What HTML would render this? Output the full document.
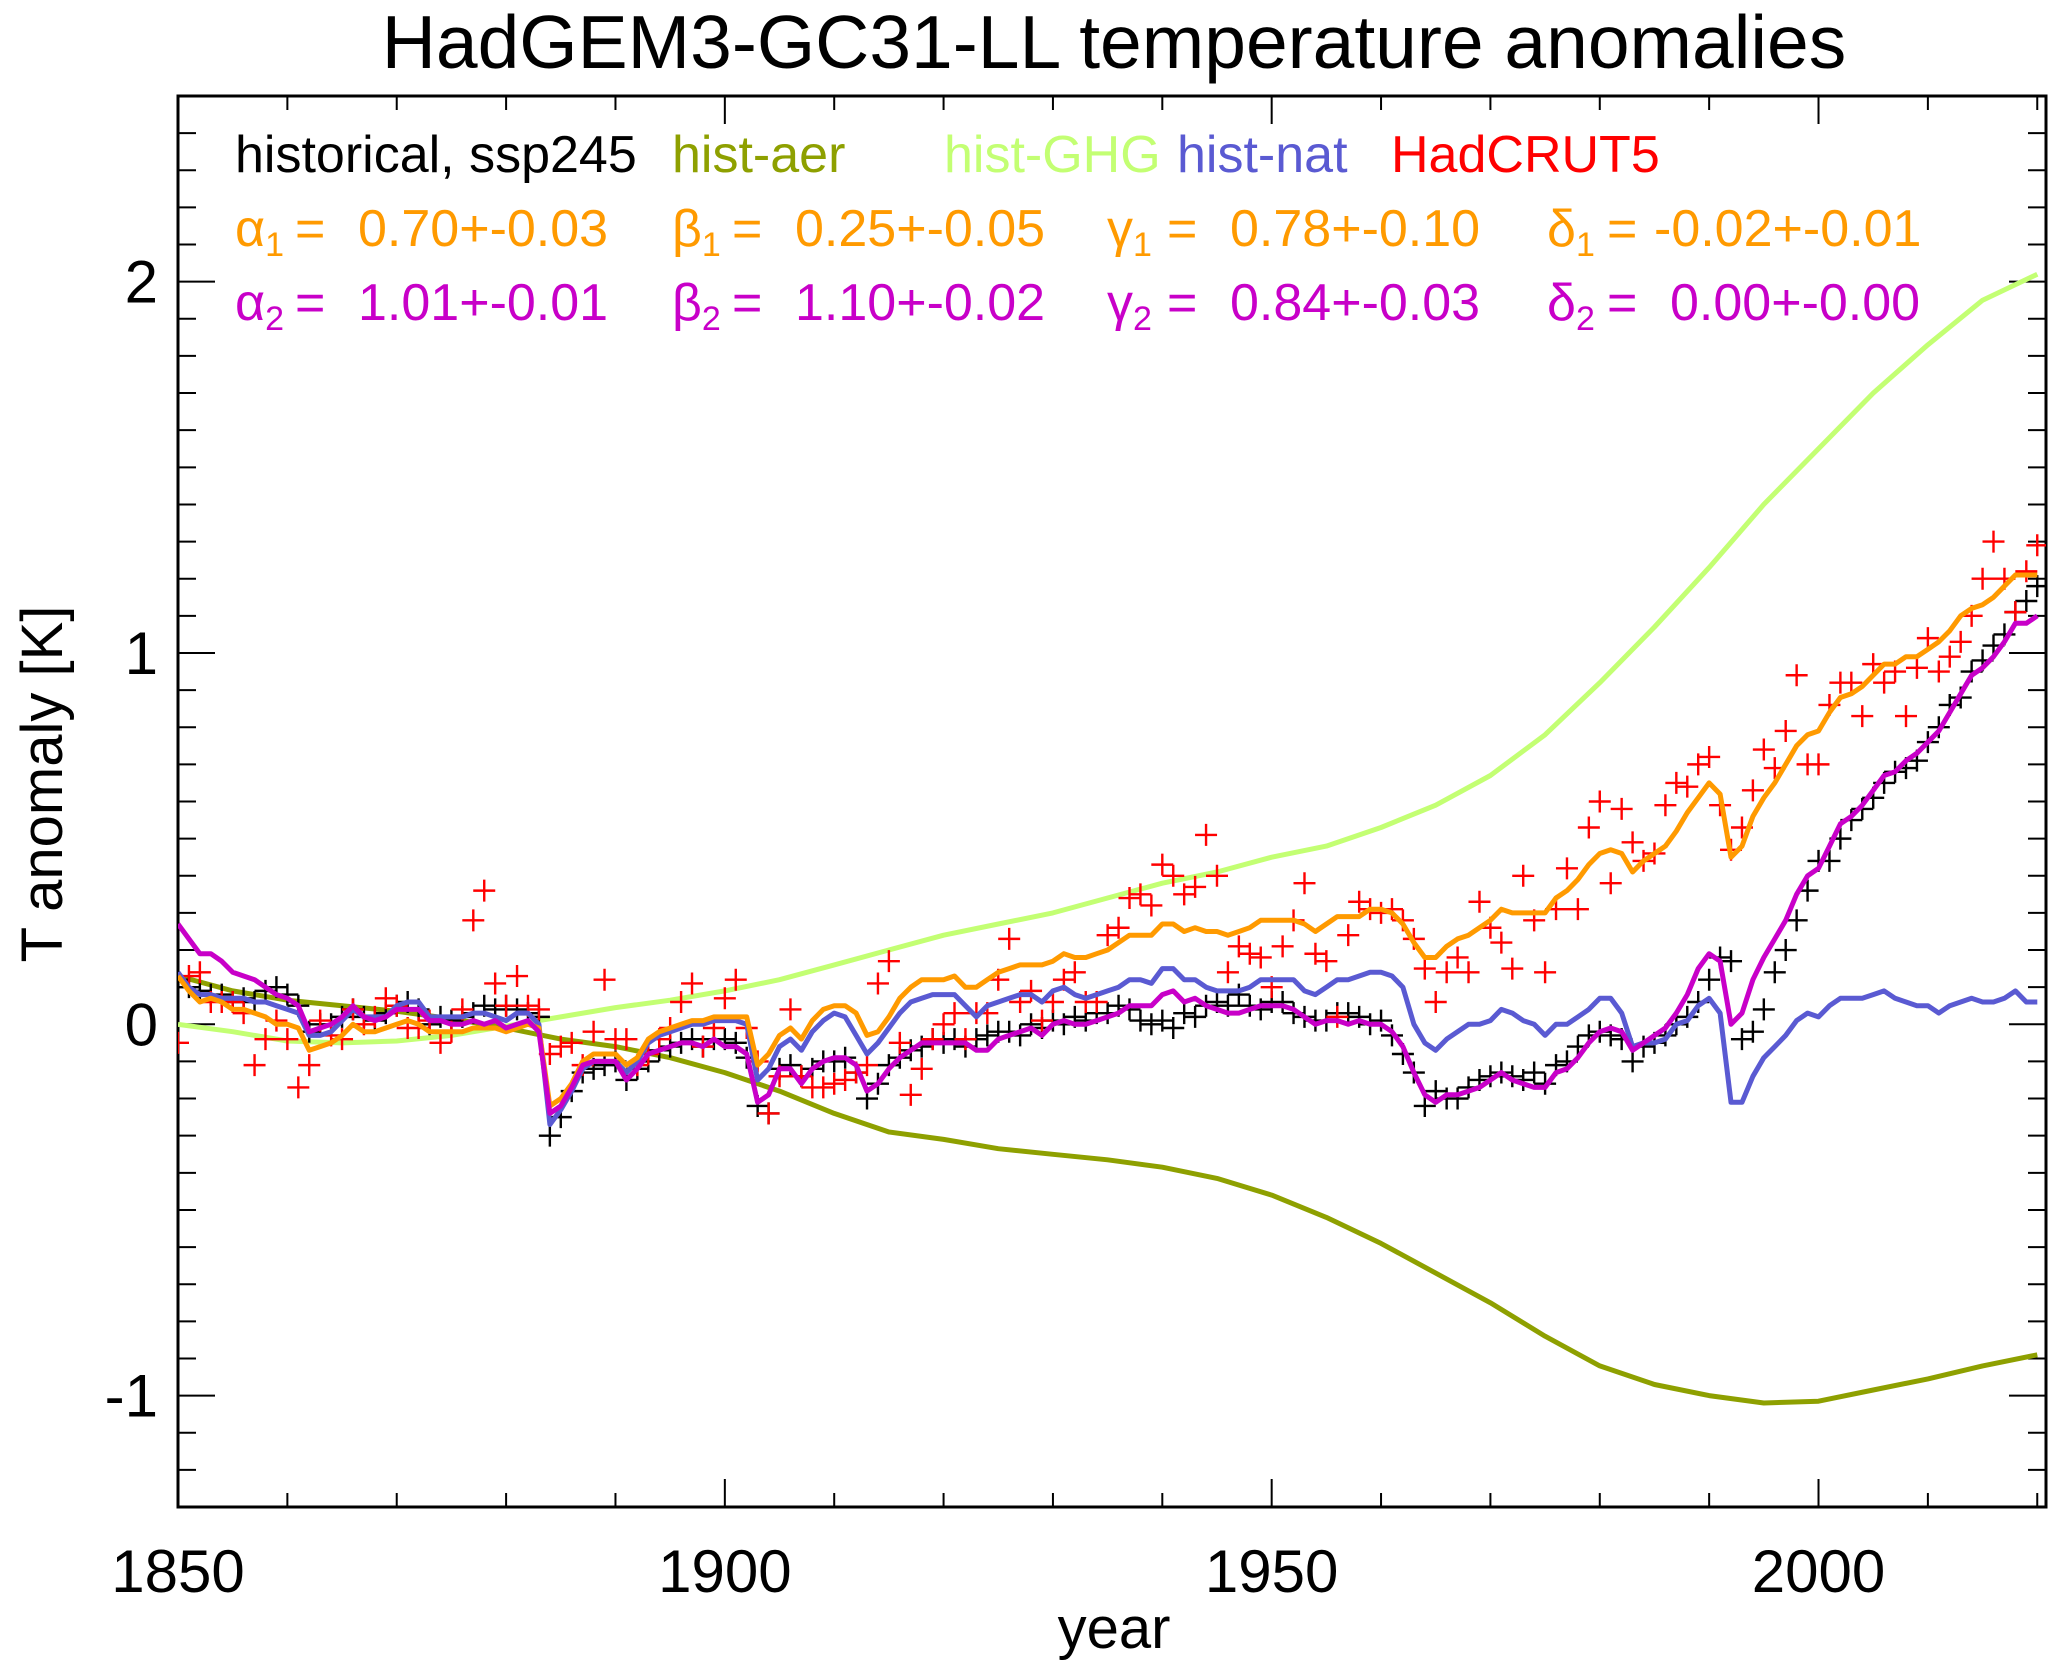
<!DOCTYPE html>
<html><head><meta charset="utf-8"><style>
html,body{margin:0;padding:0;background:#fff;}
svg{display:block;font-family:"Liberation Sans",sans-serif;}
</style></head><body>
<svg id="chart" width="2067" height="1674" viewBox="0 0 2067 1674" xmlns="http://www.w3.org/2000/svg">
<rect width="2067" height="1674" fill="#fff"/>
<text x="1114" y="68" font-size="75" text-anchor="middle">HadGEM3-GC31-LL temperature anomalies</text>
<g id="axes"></g>
<g id="series"></g>
<g font-size="52">
<text x="235" y="172" fill="#000">historical, ssp245</text>
<text x="672" y="172" fill="#8ea000">hist-aer</text>
<text x="944" y="172" fill="#c3ff73">hist-GHG</text>
<text x="1177" y="172" fill="#5a5ad2">hist-nat</text>
<text x="1391" y="172" fill="#ff0000">HadCRUT5</text>
<g fill="#ff9a00">
<text x="235" y="246">α<tspan font-size="34" dy="10">1</tspan></text>
<text x="295" y="246">=</text>
<text x="358" y="246">0.70+-0.03</text>
<text x="672" y="246">β<tspan font-size="34" dy="10">1</tspan></text>
<text x="732" y="246">=</text>
<text x="795" y="246">0.25+-0.05</text>
<text x="1107" y="246">γ<tspan font-size="34" dy="10">1</tspan></text>
<text x="1167" y="246">=</text>
<text x="1230" y="246">0.78+-0.10</text>
<text x="1547" y="246">δ<tspan font-size="34" dy="10">1</tspan></text>
<text x="1607" y="246">=</text>
<text x="1654" y="246">-0.02+-0.01</text>
</g>
<g fill="#c800c8">
<text x="235" y="320">α<tspan font-size="34" dy="10">2</tspan></text>
<text x="295" y="320">=</text>
<text x="358" y="320">1.01+-0.01</text>
<text x="672" y="320">β<tspan font-size="34" dy="10">2</tspan></text>
<text x="732" y="320">=</text>
<text x="795" y="320">1.10+-0.02</text>
<text x="1107" y="320">γ<tspan font-size="34" dy="10">2</tspan></text>
<text x="1167" y="320">=</text>
<text x="1230" y="320">0.84+-0.03</text>
<text x="1547" y="320">δ<tspan font-size="34" dy="10">2</tspan></text>
<text x="1607" y="320">=</text>
<text x="1670" y="320">0.00+-0.00</text>
</g>
</g>
<text x="1114" y="1648" font-size="58" text-anchor="middle">year</text>
<text transform="translate(62,784) rotate(-90)" font-size="58" text-anchor="middle">T anomaly [K]</text>
</svg>
<script>
const xTicks = [1850, 1900, 1950, 2000];
const yTicks = [-1, 0, 1, 2];
const annualStart = 1850;
const redVals = [-0.05,0.13,0.14,0.06,0.06,0.06,0.03,-0.11,-0.04,0.01,
-0.04,-0.17,-0.11,0.01,-0.03,-0.04,0.04,0.0,0.02,0.07,
0.05,-0.01,-0.01,0.01,-0.05,-0.02,0.04,0.28,0.36,0.11,
0.05,0.13,0.05,0.04,-0.08,-0.06,-0.05,-0.11,-0.02,0.12,
-0.04,-0.04,-0.11,-0.08,-0.04,-0.01,0.06,0.11,-0.06,-0.01,
0.07,0.12,-0.01,-0.1,-0.24,-0.14,0.04,-0.14,-0.17,-0.17,
-0.16,-0.15,-0.13,-0.11,0.11,0.17,-0.05,-0.19,-0.12,-0.04,
0.0,0.03,-0.04,0.03,0.03,0.12,0.23,0.06,0.09,0.01,
0.06,0.12,0.14,0.06,0.06,0.24,0.26,0.34,0.35,0.32,
0.43,0.40,0.35,0.37,0.51,0.40,0.14,0.21,0.19,0.18,
0.10,0.21,0.28,0.38,0.19,0.17,0.02,0.24,0.33,0.31,
0.30,0.31,0.28,0.23,0.15,0.06,0.14,0.18,0.14,0.33,
0.26,0.22,0.15,0.40,0.28,0.14,0.31,0.42,0.31,0.53,
0.60,0.38,0.58,0.49,0.44,0.46,0.59,0.65,0.64,0.70,
0.72,0.59,0.47,0.53,0.63,0.74,0.69,0.79,0.94,0.70,
0.70,0.86,0.92,0.92,0.83,0.97,0.92,0.95,0.83,0.96,
1.04,0.95,0.99,1.03,1.10,1.20,1.30,1.20,1.11,1.22,1.29];
const blackVals = [0.12,0.10,0.09,0.08,0.08,0.06,0.07,0.06,0.09,0.10,
0.08,0.05,-0.02,0.0,0.0,0.02,0.04,0.02,0.01,0.03,
0.05,0.06,0.04,0.0,0.02,0.01,0.02,0.03,0.05,0.04,
0.05,0.04,0.03,0.02,-0.3,-0.25,-0.18,-0.13,-0.12,-0.11,
-0.1,-0.15,-0.12,-0.1,-0.07,-0.06,-0.05,-0.04,-0.06,-0.04,
-0.04,-0.05,-0.09,-0.22,-0.24,-0.12,-0.11,-0.14,-0.12,-0.1,
-0.1,-0.09,-0.13,-0.2,-0.16,-0.11,-0.09,-0.07,-0.06,-0.04,
-0.05,-0.04,-0.06,-0.04,-0.03,-0.02,-0.02,-0.03,0.0,-0.01,
0.01,0.0,0.02,0.01,0.03,0.03,0.05,0.04,0.01,0.0,
0.01,-0.01,0.03,0.02,0.05,0.06,0.05,0.08,0.05,0.04,
0.06,0.06,0.03,0.02,0.01,0.01,0.03,0.03,0.02,0.0,
0.01,-0.03,-0.08,-0.13,-0.22,-0.18,-0.2,-0.2,-0.17,-0.15,
-0.14,-0.13,-0.14,-0.15,-0.13,-0.16,-0.11,-0.1,-0.06,-0.03,
-0.02,-0.03,-0.04,-0.1,-0.06,-0.05,-0.03,0.0,0.02,0.06,
0.12,0.18,0.17,-0.04,-0.02,0.04,0.14,0.2,0.28,0.36,
0.44,0.44,0.50,0.55,0.58,0.61,0.65,0.68,0.69,0.71,
0.76,0.80,0.86,0.88,0.95,0.98,1.02,1.05,1.11,1.14,1.18];
const magentaVals = [0.27,0.23,0.19,0.19,0.17,0.14,0.13,0.12,0.10,0.08,
0.07,0.05,-0.02,-0.01,0.00,0.02,0.05,0.02,0.01,0.02,
0.04,0.04,0.04,0.01,0.01,0.0,0.0,0.01,0.00,0.01,
-0.01,0.0,0.01,-0.02,-0.24,-0.22,-0.17,-0.11,-0.10,-0.10,
-0.10,-0.15,-0.12,-0.08,-0.07,-0.06,-0.05,-0.05,-0.06,-0.04,
-0.06,-0.06,-0.08,-0.21,-0.19,-0.12,-0.12,-0.16,-0.12,-0.10,
-0.09,-0.09,-0.11,-0.18,-0.16,-0.12,-0.09,-0.07,-0.05,-0.05,
-0.05,-0.05,-0.05,-0.07,-0.07,-0.04,-0.03,-0.02,-0.01,-0.03,
0.0,0.01,0.0,0.0,0.01,0.02,0.03,0.05,0.05,0.05,
0.08,0.09,0.06,0.07,0.05,0.04,0.03,0.03,0.04,0.05,
0.05,0.05,0.04,0.02,0.0,0.01,0.01,0.0,0.01,0.0,
0.0,-0.02,-0.06,-0.13,-0.19,-0.21,-0.19,-0.19,-0.18,-0.17,
-0.15,-0.13,-0.15,-0.16,-0.17,-0.17,-0.13,-0.12,-0.09,-0.05,
-0.02,-0.01,-0.02,-0.07,-0.05,-0.03,-0.01,0.03,0.08,0.15,
0.19,0.17,0.0,0.03,0.12,0.18,0.23,0.28,0.35,0.40,
0.42,0.48,0.54,0.56,0.59,0.63,0.67,0.68,0.71,0.73,
0.76,0.79,0.84,0.89,0.94,0.96,0.99,1.03,1.08,1.08,1.10];
const natVals = [0.14,0.10,0.08,0.08,0.07,0.07,0.07,0.06,0.06,0.05,
0.04,0.03,-0.03,-0.03,-0.02,0.01,0.04,0.02,0.02,0.02,
0.05,0.06,0.06,0.02,0.02,0.02,0.02,0.03,0.03,0.02,
0.01,0.03,0.03,0.0,-0.27,-0.23,-0.18,-0.12,-0.10,-0.10,
-0.10,-0.13,-0.10,-0.05,-0.03,-0.02,-0.01,0.0,0.0,0.01,
0.01,0.01,0.0,-0.15,-0.12,-0.06,-0.04,-0.07,-0.02,0.01,
0.03,0.02,-0.03,-0.08,-0.05,-0.01,0.03,0.06,0.07,0.08,
0.08,0.08,0.05,0.02,0.05,0.06,0.07,0.08,0.08,0.06,
0.09,0.10,0.08,0.07,0.08,0.09,0.10,0.12,0.12,0.11,
0.15,0.15,0.12,0.12,0.10,0.09,0.09,0.09,0.10,0.12,
0.12,0.12,0.12,0.09,0.08,0.10,0.12,0.12,0.13,0.14,
0.14,0.13,0.10,0.00,-0.05,-0.07,-0.04,-0.02,0.0,0.0,
0.01,0.04,0.03,0.01,0.0,-0.03,0.0,0.0,0.02,0.04,
0.07,0.07,0.03,-0.06,-0.05,-0.05,-0.04,0.0,0.01,0.05,
0.07,0.03,-0.21,-0.21,-0.14,-0.09,-0.06,-0.03,0.01,0.03,
0.02,0.05,0.07,0.07,0.07,0.08,0.09,0.07,0.06,0.05,
0.05,0.03,0.05,0.06,0.07,0.06,0.06,0.07,0.09,0.06,0.06];
const orangeVals = [0.13,0.09,0.06,0.07,0.06,0.04,0.04,0.03,0.02,0.00,
0.00,-0.01,-0.07,-0.06,-0.05,-0.03,0.0,-0.02,-0.02,-0.01,
0.0,0.01,0.0,-0.02,-0.02,-0.02,-0.02,-0.01,-0.01,-0.01,
-0.02,-0.01,0.0,-0.01,-0.22,-0.20,-0.16,-0.10,-0.08,-0.08,
-0.08,-0.11,-0.09,-0.04,-0.02,-0.01,0.0,0.01,0.01,0.02,
0.02,0.02,0.02,-0.11,-0.08,-0.03,-0.01,-0.04,0.01,0.04,
0.05,0.05,0.03,-0.03,-0.02,0.02,0.07,0.10,0.12,0.12,
0.12,0.13,0.10,0.10,0.12,0.14,0.15,0.16,0.16,0.16,
0.17,0.19,0.18,0.18,0.19,0.20,0.22,0.24,0.24,0.24,
0.27,0.27,0.25,0.26,0.25,0.25,0.24,0.25,0.26,0.28,
0.28,0.28,0.28,0.27,0.25,0.27,0.29,0.29,0.29,0.31,
0.31,0.30,0.27,0.22,0.18,0.18,0.21,0.23,0.24,0.26,
0.28,0.31,0.30,0.30,0.30,0.30,0.34,0.36,0.39,0.43,
0.46,0.47,0.46,0.41,0.44,0.46,0.48,0.52,0.57,0.61,
0.65,0.62,0.45,0.48,0.56,0.61,0.65,0.70,0.75,0.78,
0.79,0.84,0.88,0.89,0.91,0.94,0.97,0.97,0.99,0.99,
1.01,1.03,1.06,1.10,1.12,1.13,1.15,1.18,1.21,1.21,1.21];
const smoothYears = [1850,1855,1860,1865,1870,1875,1880,1885,1890,1895,1900,1905,1910,1915,1920,1925,1930,1935,1940,1945,1950,1955,1960,1965,1970,1975,1980,1985,1990,1995,2000,2005,2010,2015,2020];
const ghgVals = [0.0,-0.02,-0.045,-0.05,-0.045,-0.03,-0.005,0.02,0.045,0.065,0.09,0.12,0.16,0.20,0.24,0.27,0.30,0.34,0.38,0.41,0.45,0.48,0.53,0.59,0.67,0.78,0.92,1.07,1.23,1.40,1.55,1.70,1.83,1.95,2.02];
const aerVals = [0.13,0.09,0.065,0.05,0.035,0.015,-0.01,-0.04,-0.06,-0.09,-0.13,-0.18,-0.24,-0.29,-0.31,-0.335,-0.35,-0.365,-0.385,-0.415,-0.46,-0.52,-0.59,-0.67,-0.75,-0.84,-0.92,-0.97,-1.0,-1.02,-1.015,-0.985,-0.955,-0.92,-0.89];

const L=178,R=2046,T=96,B=1507,X0=1850,X1=2020.8,Y0=-1.3,Y1=2.5;
const sx=v=>L+(v-X0)/(X1-X0)*(R-L);
const sy=v=>B-(v-Y0)/(Y1-Y0)*(B-T);
const NS="http://www.w3.org/2000/svg";
function mk(tag,attrs,parent){const e=document.createElementNS(NS,tag);for(const k in attrs)e.setAttribute(k,attrs[k]);parent.appendChild(e);return e;}
const axes=document.getElementById('axes');
const frame=mk('rect',{x:L,y:T,width:R-L,height:B-T,fill:'none',stroke:'#000','stroke-width':3},axes);


for(let yr=1860;yr<=2020;yr+=10){
  const maj=(yr%50===0);const len=maj?28:14;const x=sx(yr);
  const t=mk('path',{d:`M${x},${B}V${B-len}M${x},${T}V${T+len}`,stroke:'#000','stroke-width':2},axes);
  
  
}
for(let i=-12;i<=24;i++){
  const v=i/10;const maj=(i%10===0);const len=maj?37:18;const y=sy(v);
  const t=mk('path',{d:`M${L},${y}H${L+len}M${R},${y}H${R-len}`,stroke:'#000','stroke-width':2},axes);
  
  
}
xTicks.forEach(v=>{const t=mk('text',{x:sx(v),y:1592,'font-size':60,'text-anchor':'middle'},axes);t.textContent=v;
  
  });
yTicks.forEach(v=>{const t=mk('text',{x:158,y:sy(v)+21,'font-size':60,'text-anchor':'end'},axes);t.textContent=v;
  
  });

const ser=document.getElementById('series');
const cp=mk('clipPath',{id:'clip'},ser);mk('rect',{x:L,y:T,width:R-L,height:B-T},cp);
const g=mk('g',{'clip-path':'url(#clip)'},ser);
function line(years,vals,color,name){
  const d=vals.map((v,i)=>(i?'L':'M')+sx(years[i]).toFixed(1)+','+sy(v).toFixed(1)).join('');
  const p=mk('path',{d:d,fill:'none',stroke:color,'stroke-width':5,'stroke-linejoin':'round'},g);
  
  
}
function crosses(vals,color,name){
  const d=vals.map((v,i)=>{const x=sx(annualStart+i),y=sy(v);return `M${x-11},${y}H${x+11}M${x},${y-11}V${y+11}`;}).join('');
  const p=mk('path',{d:d,fill:'none',stroke:color,'stroke-width':2.4},g);
  
  
}
const annualYears=redVals.map((_,i)=>annualStart+i);
line(smoothYears,ghgVals,'#c3ff73','hist-ghg-line');
line(smoothYears,aerVals,'#8ea000','hist-aer-line');
crosses(blackVals,'#000','historical-ssp245-points');
crosses(redVals,'#ff0000','hadcrut5-points');
line(annualYears,natVals,'#5a5ad2','hist-nat-line');
line(annualYears,orangeVals,'#ff9a00','fit1-line');
line(annualYears,magentaVals,'#c800c8','fit2-line');
</script>
</body></html>
